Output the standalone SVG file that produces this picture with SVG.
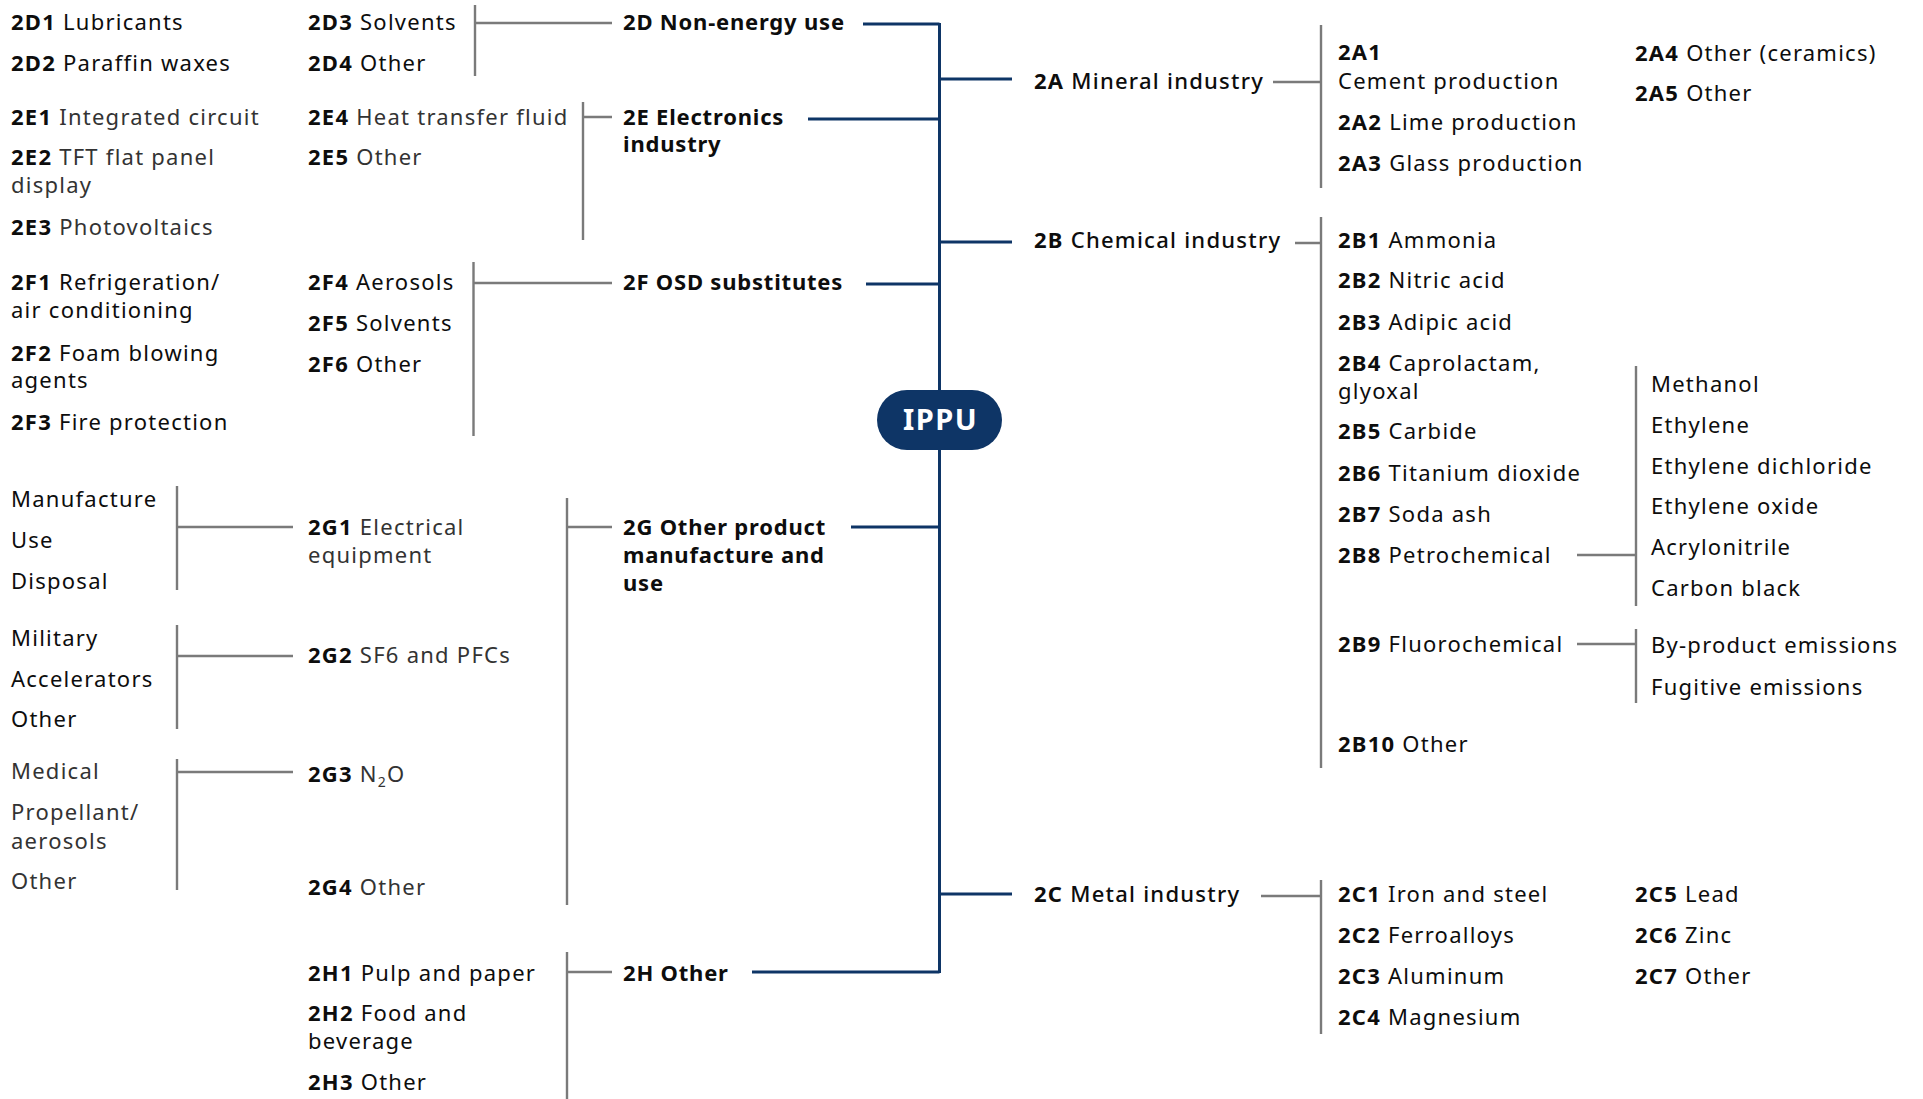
<svg xmlns="http://www.w3.org/2000/svg" width="1923" height="1099" viewBox="0 0 1923 1099">
<style>
text{font-family:"Noto Sans","Liberation Sans",sans-serif;font-size:22px;letter-spacing:1.25px;fill:#0d0d0d}
.l{fill:#333}
.b{font-weight:700;fill:#0d0d0d}
.h{font-weight:700;fill:#0d0d0d;letter-spacing:0.8px}
.m{font-weight:500;fill:#0d0d0d}
.g{stroke:#7a7a7a;stroke-width:2.4;fill:none}
.n{stroke:#0e3566;stroke-width:3;fill:none}
.pill{fill:#0e3566}
.pt{font-size:29px;font-weight:700;fill:#fff;letter-spacing:1.5px}
</style>
<rect width="1923" height="1099" fill="#fff"/>
<g id="connectors">
<path class="n" d="M939.5 23V973 M863 24H939.5 M808 119H939.5 M866 284H939.5 M851 527H939.5 M752 972H939.5 M939.5 79H1012 M939.5 242H1012 M939.5 894H1012"/>
<path class="g" d="M475 5V76 M475 23H612 M583 102V240 M583 117H612 M473.5 262V436 M473.5 283H612 M567 498V905 M567 527H612 M567 952V1099 M567 972H612 M177 486V590 M177 527H293 M177 625V729 M177 656H293 M177 759V890 M177 772H293 M1321 25V188 M1273 82H1321 M1321 217V768 M1295 243H1321 M1321 880V1034 M1261 896H1321 M1636 366V606 M1577 555H1636 M1636 629V703 M1577 644H1636"/>
</g>
<g id="ippu"><rect class="pill" x="877" y="390" width="125" height="60" rx="30"/><text class="pt" x="940.5" y="430" text-anchor="middle">IPPU</text></g>
<g id="n2D"><text class="h" x="623" y="30">2D Non-energy use</text></g>
<g id="n2D1"><text x="11" y="30"><tspan class="b">2D1</tspan> Lubricants</text></g>
<g id="n2D2"><text x="11" y="71"><tspan class="b">2D2</tspan> Paraffin waxes</text></g>
<g id="n2D3"><text x="308" y="30"><tspan class="b">2D3</tspan> Solvents</text></g>
<g id="n2D4"><text x="308" y="71"><tspan class="b">2D4</tspan> Other</text></g>
<g id="n2E"><text class="h" x="623" y="125">2E Electronics</text><text class="h" x="623" y="152">industry</text></g>
<g id="n2E1"><text class="l" x="11" y="125"><tspan class="b">2E1</tspan> Integrated circuit</text></g>
<g id="n2E2"><text class="l" x="11" y="165"><tspan class="b">2E2</tspan> TFT flat panel</text><text class="l" x="11" y="193">display</text></g>
<g id="n2E3"><text class="l" x="11" y="235"><tspan class="b">2E3</tspan> Photovoltaics</text></g>
<g id="n2E4"><text class="l" x="308" y="125"><tspan class="b">2E4</tspan> Heat transfer fluid</text></g>
<g id="n2E5"><text class="l" x="308" y="165"><tspan class="b">2E5</tspan> Other</text></g>
<g id="n2F"><text class="h" x="623" y="290">2F OSD substitutes</text></g>
<g id="n2F1"><text x="11" y="290"><tspan class="b">2F1</tspan> Refrigeration/</text><text x="11" y="318">air conditioning</text></g>
<g id="n2F2"><text x="11" y="361"><tspan class="b">2F2</tspan> Foam blowing</text><text x="11" y="388">agents</text></g>
<g id="n2F3"><text x="11" y="430"><tspan class="b">2F3</tspan> Fire protection</text></g>
<g id="n2F4"><text x="308" y="290"><tspan class="b">2F4</tspan> Aerosols</text></g>
<g id="n2F5"><text x="308" y="331"><tspan class="b">2F5</tspan> Solvents</text></g>
<g id="n2F6"><text x="308" y="372"><tspan class="b">2F6</tspan> Other</text></g>
<g id="n2G"><text class="h" x="623" y="535">2G Other product</text><text class="h" x="623" y="563">manufacture and</text><text class="h" x="623" y="591">use</text></g>
<g id="n2G1"><text class="l" x="308" y="535"><tspan class="b">2G1</tspan> Electrical</text><text class="l" x="308" y="563">equipment</text></g>
<g id="n2G1a"><text x="11" y="507">Manufacture</text><text x="11" y="548">Use</text><text x="11" y="589">Disposal</text></g>
<g id="n2G2"><text class="l" x="308" y="663"><tspan class="b">2G2</tspan> SF6 and PFCs</text></g>
<g id="n2G2a"><text x="11" y="646">Military</text><text x="11" y="687">Accelerators</text><text x="11" y="727">Other</text></g>
<g id="n2G3"><text class="l" x="308" y="782"><tspan class="b">2G3</tspan> N<tspan font-size="14" dy="5">2</tspan><tspan dy="-5">O</tspan></text></g>
<g id="n2G3a"><text class="l" x="11" y="779">Medical</text><text class="l" x="11" y="820">Propellant/</text><text class="l" x="11" y="849">aerosols</text><text class="l" x="11" y="889">Other</text></g>
<g id="n2G4"><text class="l" x="308" y="895"><tspan class="b">2G4</tspan> Other</text></g>
<g id="n2H"><text class="h" x="623" y="981">2H Other</text></g>
<g id="n2H1"><text x="308" y="981"><tspan class="b">2H1</tspan> Pulp and paper</text></g>
<g id="n2H2"><text x="308" y="1021"><tspan class="b">2H2</tspan> Food and</text><text x="308" y="1049">beverage</text></g>
<g id="n2H3"><text x="308" y="1090"><tspan class="b">2H3</tspan> Other</text></g>
<g id="n2A"><text class="m" x="1034" y="89"><tspan class="b">2A</tspan> Mineral industry</text></g>
<g id="n2A1"><text x="1338" y="60"><tspan class="b">2A1</tspan></text><text x="1338" y="89">Cement production</text></g>
<g id="n2A2"><text x="1338" y="130"><tspan class="b">2A2</tspan> Lime production</text></g>
<g id="n2A3"><text x="1338" y="171"><tspan class="b">2A3</tspan> Glass production</text></g>
<g id="n2A4"><text x="1635" y="61"><tspan class="b">2A4</tspan> Other (ceramics)</text></g>
<g id="n2A5"><text x="1635" y="101"><tspan class="b">2A5</tspan> Other</text></g>
<g id="n2B"><text class="m" x="1034" y="248"><tspan class="b">2B</tspan> Chemical industry</text></g>
<g id="n2B1"><text x="1338" y="248"><tspan class="b">2B1</tspan> Ammonia</text></g>
<g id="n2B2"><text x="1338" y="288"><tspan class="b">2B2</tspan> Nitric acid</text></g>
<g id="n2B3"><text x="1338" y="330"><tspan class="b">2B3</tspan> Adipic acid</text></g>
<g id="n2B4"><text x="1338" y="371"><tspan class="b">2B4</tspan> Caprolactam,</text><text x="1338" y="399">glyoxal</text></g>
<g id="n2B5"><text x="1338" y="439"><tspan class="b">2B5</tspan> Carbide</text></g>
<g id="n2B6"><text x="1338" y="481"><tspan class="b">2B6</tspan> Titanium dioxide</text></g>
<g id="n2B7"><text x="1338" y="522"><tspan class="b">2B7</tspan> Soda ash</text></g>
<g id="n2B8"><text x="1338" y="563"><tspan class="b">2B8</tspan> Petrochemical</text></g>
<g id="n2B8a"><text x="1651" y="392">Methanol</text><text x="1651" y="433">Ethylene</text><text x="1651" y="474">Ethylene dichloride</text><text x="1651" y="514">Ethylene oxide</text><text x="1651" y="555">Acrylonitrile</text><text x="1651" y="596">Carbon black</text></g>
<g id="n2B9"><text x="1338" y="652"><tspan class="b">2B9</tspan> Fluorochemical</text></g>
<g id="n2B9a"><text x="1651" y="653">By-product emissions</text><text x="1651" y="695">Fugitive emissions</text></g>
<g id="n2B10"><text x="1338" y="752"><tspan class="b">2B10</tspan> Other</text></g>
<g id="n2C"><text class="m" x="1034" y="902"><tspan class="b">2C</tspan> Metal industry</text></g>
<g id="n2C1"><text x="1338" y="902"><tspan class="b">2C1</tspan> Iron and steel</text></g>
<g id="n2C2"><text x="1338" y="943"><tspan class="b">2C2</tspan> Ferroalloys</text></g>
<g id="n2C3"><text x="1338" y="984"><tspan class="b">2C3</tspan> Aluminum</text></g>
<g id="n2C4"><text x="1338" y="1025"><tspan class="b">2C4</tspan> Magnesium</text></g>
<g id="n2C5"><text x="1635" y="902"><tspan class="b">2C5</tspan> Lead</text></g>
<g id="n2C6"><text x="1635" y="943"><tspan class="b">2C6</tspan> Zinc</text></g>
<g id="n2C7"><text x="1635" y="984"><tspan class="b">2C7</tspan> Other</text></g>
</svg>
